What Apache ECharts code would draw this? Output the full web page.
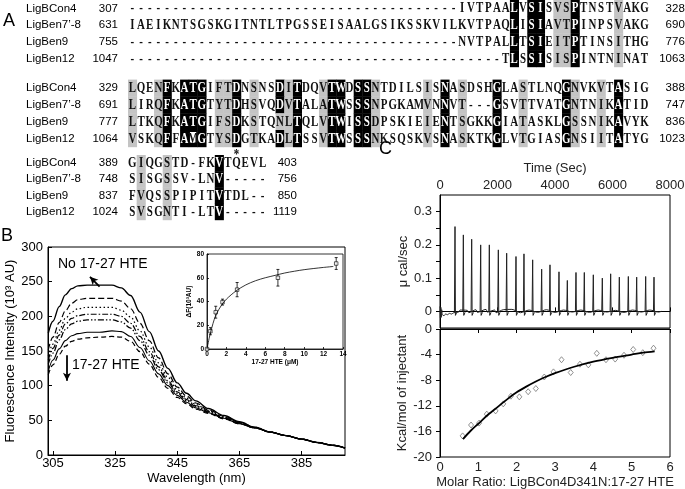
<!DOCTYPE html>
<html><head><meta charset="utf-8">
<script src="https://cdn.jsdelivr.net/npm/echarts@6/dist/echarts.min.js"></script>
<style>html,body{margin:0;padding:0;background:#fff}#c{width:685px;height:489px}</style>
</head><body><div id="c"></div>
<script>
// ================= Panel A : alignment =================
const seqNames = ['LigBCon4', 'LigBen7\u2019-8', 'LigBen9', 'LigBen12'];
const block1Start = [307, 631, 755, 1047];
const block1End = [328, 690, 776, 1063];
const block1Seq = [
  '--------------------------------------IVTPAALVSISVSPTNSTVAKG',
  'IAEIKNTSGSKGITNTLTPGSSEISAALGSIKSSKVILKVTPAQLISIAVTPINPSVAKG',
  '--------------------------------------NVTPALLTSIEITPTINSITHG',
  '-------------------------------------------TLSSISISPINTNINAT'
];
const block1Black = [45, 47, 48, 52];
const block1Gray = [50, 51, 57];

const block2Start = [329, 691, 777, 1064];
const block2End = [388, 747, 836, 1023];
const block2Seq = [
  'LQENFKATGIFTDNSNSDITDQVTWDSSNTDILSISNASDSHGLASTLNQGNVKVTASIG',
  'LIRQFKATGTYTDHSVQDVTALATWSSSNPGKAMVNNVT---GSVTTVATGNTNIKATID',
  'LTKQFKATGIFSDKSTQNLTQLVTWISSDPSKIEIENTSGKKGIATASKLGSSNIKAVYK',
  'VSKQFFAMGTYSDGTKADLTSSVTWSSSNKSQSKVSNASKTKGLVTGIASGNSIITATYG'
];
const block2Black = [5, 7, 8, 9, 13, 18, 20, 24, 25, 27, 28, 37, 43, 51, 57];
const block2Gray = [1, 4, 11, 12, 15, 19, 23, 29, 35, 39, 46, 52, 55];
const block2Except = [[2, 18, 'g'], [3, 8, 'w']];
const block2Star = 13;

const block3Start = [389, 748, 837, 1024];
const block3End = [403, 756, 850, 1119];
const block3Seq = [
  'GIQGSTD-FKVTQEVL',
  'SISGSSV-LNV-----',
  'FVQSSPIPITVTDL--',
  'SVSGNTI-LTV-----'
];
const block3Black = [11];
const block3Gray = [2, 5];

// ================= Panel B : fluorescence =================
const wavelength = [303.5,305,307,309,311,313,316,320,324,327,330,333,336,339,342,345,348,351,355,360,365,370,375,380,385,390,395,399];
const fNoHTE = [176,193,214,231,240,244,245,245,245,241,230,206,178,150,125,104,89,78,67,57,48,40,33,28,23,18,14,10];
const fHTE1  = [152,170,191,208,219,224,226,226,226,222,211,190,165,140,117,98,85,75,65,56,47,40,33,28,23,18,14,10];
const fHTE2  = [143,160,180,197,206,211,213,213,213,209,199,179,156,133,112,94,82,73,64,55,47,40,33,28,23,18,14,10];
const fHTE3  = [137,154,173,189,197,201,203,203,203,200,190,171,149,127,107,91,80,71,63,54,46,39,33,28,23,18,14,10];
const fHTE4  = [131,147,166,181,189,193,195,195,195,192,183,165,144,123,104,89,78,70,62,53,46,39,33,28,23,18,14,10];
const fHTE5  = [121,137,153,165,172,175,177,177,179,178,171,155,136,117,100,86,76,68,61,53,45,39,33,28,23,18,14,10];
const fHTE6  = [116,130,145,157,164,167,169,170,171,170,164,149,131,112,96,83,74,66,60,52,45,39,33,28,23,18,14,10];
const wlTicks = [305, 325, 345, 365, 385];

// inset
const insetConc = [0, 0.35, 0.9, 1.6, 3.1, 7.3, 13.3];
const insetDF = [0, 15, 31, 39.5, 50, 60, 72];
const insetErr = [0, 3, 5, 2.5, 6, 7, 5];
const insetFitConc = [0,0.25,0.5,0.75,1,1.5,2,3,4,5,6,7,8,9,10,11,12,13];
const insetFitDF = [0,10,18,25,30,37,42,49,54,57.5,60,62,64,65.5,66.8,67.8,68.7,69.5];

// ================= Panel C : ITC =================
const itcInjTime = [522,812,1102,1415,1716,2029,2319,2643,2921,3223,3536,3826,4139,4429,4730,5020,5333,5646,5936,6238,6551,6841,7154,7444];
const itcPeak = [0.255,0.23,0.217,0.2,0.2,0.185,0.175,0.165,0.173,0.155,0.127,0.14,0.119,0.093,0.117,0.117,0.11,0.1,0.113,0.103,0.105,0.103,0.105,0.103];
const itcBaseTime = [0,15,30,45,60,80,110,140,170,200,260,330,400,480,650,700,950,1000,1250,1300,1600,1650,1900,1950,2200,2500,2800,3100,3400,3700,4000,4300,4600,4900,5200,5500,5800,6100,6400,6700,7000,7300,7600,7700];
const itcBaseVal = [0.015,-0.02,0.012,-0.018,0.005,-0.01,-0.012,-0.013,-0.01,-0.008,-0.01,-0.006,-0.008,-0.004,-0.002,0.004,0.003,-0.004,0.005,-0.003,0.006,-0.002,0.004,-0.004,0.005,0.006,-0.004,0.004,-0.003,0.005,-0.003,0.004,-0.002,0.004,-0.003,0.004,-0.002,0.003,-0.003,0.004,-0.002,0.004,-0.002,0];
const molarRatio = [0.59,0.81,1.02,1.22,1.45,1.65,1.85,2.07,2.30,2.50,2.72,2.96,3.17,3.41,3.65,3.87,4.09,4.33,4.57,4.80,5.04,5.29,5.57];
const heatKcal = [-16.7,-15.0,-14.7,-13.3,-12.8,-11.7,-10.5,-10.6,-9.8,-9.3,-7.5,-6.7,-4.8,-6.8,-5.5,-5.6,-3.8,-4.8,-4.7,-4.1,-3.2,-3.7,-3.0];
const fitRatio = [0.6,0.8,1.0,1.25,1.5,1.75,2.0,2.25,2.5,2.75,3.0,3.5,4.0,4.5,5.0,5.3,5.6];
const fitKcal = [-17.2,-15.9,-14.8,-13.4,-12.2,-11.0,-9.9,-9.0,-8.2,-7.5,-6.9,-5.9,-5.1,-4.5,-4.0,-3.7,-3.5];

// ---------------------------------------------------------
const FONT = 'Liberation Sans';
const CELL = 8.68;

function buildCells(seqs, black, gray, except) {
  const items = [];
  seqs.forEach((s, r) => {
    for (let c = 1; c <= s.length; c++) {
      const ch = s[c - 1];
      let sh = '';
      if (ch !== '-') {
        if (black.includes(c)) sh = 'b';
        else if (gray.includes(c)) sh = 'g';
      }
      (except || []).forEach(e => { if (e[0] === r && e[1] === c) sh = e[2]; });
      items.push({ value: [c - 0.5, r], ch: ch, sh: sh });
    }
  });
  return items;
}
const cells1 = buildCells(block1Seq, block1Black, block1Gray, []);
const cells2 = buildCells(block2Seq, block2Black, block2Gray, block2Except);
cells2.push({ value: [block2Star - 0.5, 4], ch: '*', sh: '' });
const cells3 = buildCells(block3Seq, block3Black, block3Gray, []);

function alignRenderer(items) {
  return function (params, api) {
    const it = items[params.dataIndex];
    const p = api.coord([api.value(0), api.value(1)]);
    const sz = api.size([1, 1]);
    const w = sz[0], h = sz[1];
    const ch = [];
    const rect = { x: p[0] - w / 2, y: p[1] - h / 2, width: w + 0.4, height: h + 0.4 };
    if (it.sh === 'b' || it.sh === 'w') ch.push({ type: 'rect', shape: rect, style: { fill: '#000' } });
    if (it.sh === 'g') ch.push({ type: 'rect', shape: rect, style: { fill: '#c4c4c4' } });
    if (it.sh === 'w') ch.push({ type: 'rect', shape: { x: p[0] - w / 2 + 1.2, y: p[1] - h / 2 + 2, width: w - 2.4, height: h - 6 }, style: { fill: '#fff' } });
    ch.push({
      type: 'text', x: p[0], y: p[1] + 0.5, scaleX: 0.78,
      style: { text: it.ch, fill: it.sh === 'b' ? '#fff' : '#111', font: 'bold 14px "Liberation Serif"', align: 'center', verticalAlign: 'middle' }
    });
    return { type: 'group', children: ch };
  };
}

function nameAxis(gi, nCat, starts) {
  const cats = []; for (let i = 0; i < nCat; i++) cats.push(String(i));
  return {
    type: 'category', gridIndex: gi, data: cats, inverse: true, position: 'left',
    axisLine: { show: false }, axisTick: { show: false }, splitLine: { show: false },
    axisLabel: {
      interval: 0, margin: 10, hideOverlap: false,
      formatter: (v, i) => i < 4 ? '{n|' + seqNames[i] + '}{s|' + starts[i] + '}' : '',
      rich: {
        n: { width: 62, align: 'left', fontFamily: FONT, fontSize: 11.5, color: '#000' },
        s: { width: 30, align: 'right', fontFamily: FONT, fontSize: 11.5, color: '#000' }
      }
    }
  };
}
function endAxis(gi, nCat, ends, boxW) {
  const cats = []; for (let i = 0; i < nCat; i++) cats.push(String(i));
  return {
    type: 'category', gridIndex: gi, data: cats, inverse: true, position: 'right',
    axisLine: { show: false }, axisTick: { show: false }, splitLine: { show: false },
    axisLabel: {
      interval: 0, margin: 0, hideOverlap: false,
      formatter: (v, i) => i < 4 ? '{e|' + ends[i] + '}' : '',
      rich: { e: { width: boxW, align: 'right', fontFamily: FONT, fontSize: 11.5, color: '#000' } }
    }
  };
}
function hiddenX(gi, max) {
  return { type: 'value', gridIndex: gi, min: 0, max: max, show: false };
}

const lab = (size, extra) => Object.assign({ fontFamily: FONT, fontSize: size, color: '#000' }, extra || {});
const blackLine = { lineStyle: { color: '#000', width: 1 } };

const gridBase = { containLabel: false, outerBoundsMode: 'none' };
const frame = { show: true, borderColor: '#000', borderWidth: 1, backgroundColor: 'transparent' };

const option = {
  animation: false,
  backgroundColor: '#fff',
  grid: [
    Object.assign({ left: 128, top: 0, width: 60 * CELL, height: 66.8 }, gridBase),
    Object.assign({ left: 128, top: 79.6, width: 60 * CELL, height: 84 }, gridBase),
    Object.assign({ left: 128, top: 155, width: 16 * CELL, height: 64.8 }, gridBase),
    Object.assign({ left: 48, top: 247, width: 297, height: 208 }, gridBase, frame),
    Object.assign({ left: 207, top: 254, width: 136, height: 95 }, gridBase, frame, { borderWidth: 0.8 }),
    Object.assign({ left: 440, top: 195, width: 230, height: 133 }, gridBase, frame),
    Object.assign({ left: 440, top: 329, width: 230, height: 128 }, gridBase, frame)
  ],
  xAxis: [
    hiddenX(0, 60), hiddenX(1, 60), hiddenX(2, 16),
    { type: 'value', gridIndex: 3, min: 303.4, max: 399,
      name: 'Wavelength (nm)', nameLocation: 'middle', nameGap: 17, nameTextStyle: lab(13),
      axisLine: blackLine, splitLine: { show: false },
      axisTick: { inside: true, length: 4, customValues: wlTicks, lineStyle: { color: '#000' } },
      axisLabel: lab(13, { margin: 2, customValues: wlTicks }) },
    { type: 'value', gridIndex: 4, min: 0, max: 14, interval: 2,
      name: '17-27 HTE (\u03bcM)', nameLocation: 'middle', nameGap: 9, nameTextStyle: lab(6.5, { fontWeight: 'bold' }),
      axisLine: { lineStyle: { color: '#000', width: 0.8 } }, splitLine: { show: false },
      axisTick: { inside: true, length: 2, lineStyle: { color: '#000', width: 0.8 } },
      axisLabel: lab(6.5, { fontWeight: 'bold', margin: 2 }) },
    { type: 'value', gridIndex: 5, min: 0, max: 8000, interval: 2000, position: 'top',
      name: 'Time (Sec)', nameLocation: 'middle', nameGap: 20, nameTextStyle: lab(13, { color: '#222' }),
      axisLine: blackLine, splitLine: { show: false },
      axisTick: { inside: false, length: 4, lineStyle: { color: '#000' } },
      axisLabel: lab(13, { margin: 3, color: '#222', formatter: v => String(v) }) },
    { type: 'value', gridIndex: 6, min: 0, max: 6, interval: 1,
      name: 'Molar Ratio: LigBCon4D341N:17-27 HTE', nameLocation: 'middle', nameGap: 19, nameTextStyle: lab(13, { color: '#222' }),
      axisLine: blackLine, splitLine: { show: false },
      axisTick: { inside: false, length: 4, lineStyle: { color: '#000' } },
      axisLabel: lab(13, { margin: 4, color: '#222' }) }
  ],
  yAxis: [
    nameAxis(0, 4, block1Start), endAxis(0, 4, block1End, 36),
    nameAxis(1, 5, block2Start), endAxis(1, 5, block2End, 36),
    nameAxis(2, 4, block3Start), endAxis(2, 4, block3End, 30),
    { type: 'value', gridIndex: 3, min: 0, max: 300, interval: 50,
      name: 'Fluorescence Intensity (10\u00b3 AU)', nameLocation: 'middle', nameGap: 30, nameTextStyle: lab(13),
      axisLine: blackLine, splitLine: { show: false },
      axisTick: { inside: true, length: 4, lineStyle: { color: '#000' } },
      axisLabel: lab(13, { margin: 5 }) },
    { type: 'value', gridIndex: 4, min: 0, max: 80, interval: 20,
      name: '\u0394F(10\u00b3AU)', nameLocation: 'middle', nameGap: 13, nameTextStyle: lab(6.5, { fontWeight: 'bold' }),
      axisLine: { lineStyle: { color: '#000', width: 0.8 } }, splitLine: { show: false },
      axisTick: { inside: true, length: 2, lineStyle: { color: '#000', width: 0.8 } },
      axisLabel: lab(6.5, { fontWeight: 'bold', margin: 3 }) },
    { type: 'value', gridIndex: 5, min: -0.05, max: 0.35,
      name: '\u03bc cal/sec', nameLocation: 'middle', nameGap: 30, nameTextStyle: lab(13, { color: '#222' }),
      axisLine: blackLine, splitLine: { show: false },
      axisTick: { length: 4, customValues: [0, 0.05, 0.1, 0.15, 0.2, 0.25, 0.3], lineStyle: { color: '#000' } },
      axisLabel: lab(13, { margin: 8, color: '#222', customValues: [0, 0.1, 0.2, 0.3], formatter: v => v === 0 ? '0' : v.toFixed(1) }) },
    { type: 'value', gridIndex: 6, min: -20, max: 0, interval: 4,
      name: 'Kcal/mol of injectant', nameLocation: 'middle', nameGap: 30, nameTextStyle: lab(13, { color: '#222' }),
      axisLine: blackLine, splitLine: { show: false },
      axisTick: { length: 4, lineStyle: { color: '#000' } },
      axisLabel: lab(13, { margin: 8, color: '#222' }) }
  ],
  graphic: [
    { type: 'text', left: 3, top: 12, style: { text: 'A', font: '18px "Liberation Sans"', fill: '#000' } },
    { type: 'text', left: 1, top: 227, style: { text: 'B', font: '18px "Liberation Sans"', fill: '#000' } },
    { type: 'text', left: 379, top: 140, style: { text: 'C', font: '18px "Liberation Sans"', fill: '#000' } },
    { type: 'text', left: 58, top: 257, style: { text: 'No 17-27 HTE', font: '14px "Liberation Sans"', fill: '#000' } },
    { type: 'text', left: 72, top: 358, style: { text: '17-27 HTE', font: '14px "Liberation Sans"', fill: '#000' } }
  ],
  series: [
    { type: 'custom', xAxisIndex: 0, yAxisIndex: 0, data: cells1.map(d => d.value), renderItem: alignRenderer(cells1), silent: true, clip: false },
    { type: 'custom', xAxisIndex: 1, yAxisIndex: 2, data: cells2.map(d => d.value), renderItem: alignRenderer(cells2), silent: true, clip: false },
    { type: 'custom', xAxisIndex: 2, yAxisIndex: 4, data: cells3.map(d => d.value), renderItem: alignRenderer(cells3), silent: true, clip: false },
  ]
};

// Panel B curves
const curveSet = [
  [fNoHTE, 'solid', 1.4],
  [fHTE1, [6, 3], 1.2],
  [fHTE2, [1.5, 2.5], 1.2],
  [fHTE3, [6, 2, 1.5, 2], 1.2],
  [fHTE4, [6, 2, 1.5, 2, 1.5, 2], 1.2],
  [fHTE5, 'solid', 1.1],
  [fHTE6, [5, 3], 1.2]
];
curveSet.forEach((cs, k) => {
  const s = {
    type: 'line', xAxisIndex: 3, yAxisIndex: 6, showSymbol: false, symbol: 'none',
    smooth: 0.35, smoothMonotone: 'x',
    data: wavelength.map((w, i) => [w, cs[0][i]]),
    lineStyle: { color: '#000', width: cs[2], type: cs[1] }, silent: true
  };
  if (k === 0) {
    s.markLine = {
      silent: true, symbol: ['none', 'arrow'], symbolSize: [6, 8], label: { show: false },
      lineStyle: { color: '#000', width: 1.8, type: 'solid' },
      data: [
        [{ coord: [320, 243] }, { coord: [316.9, 257] }],
        [{ coord: [309.5, 144] }, { coord: [309.5, 107] }]
      ]
    };
  }
  option.series.push(s);
});

// inset
option.series.push({
  type: 'line', xAxisIndex: 4, yAxisIndex: 7, showSymbol: false, smooth: 0.3,
  data: insetFitConc.map((c, i) => [c, insetFitDF[i]]),
  lineStyle: { color: '#000', width: 0.8 }, silent: true
});
option.series.push({
  type: 'custom', xAxisIndex: 4, yAxisIndex: 7, silent: true,
  data: insetConc.map((c, i) => [c, insetDF[i] - insetErr[i], insetDF[i] + insetErr[i]]),
  renderItem: (params, api) => {
    const lo = api.coord([api.value(0), api.value(1)]);
    const hi = api.coord([api.value(0), api.value(2)]);
    return { type: 'group', children: [
      { type: 'line', shape: { x1: lo[0], y1: lo[1], x2: hi[0], y2: hi[1] }, style: { stroke: '#000', lineWidth: 0.8 } },
      { type: 'line', shape: { x1: lo[0] - 1.5, y1: lo[1], x2: lo[0] + 1.5, y2: lo[1] }, style: { stroke: '#000', lineWidth: 0.8 } },
      { type: 'line', shape: { x1: hi[0] - 1.5, y1: hi[1], x2: hi[0] + 1.5, y2: hi[1] }, style: { stroke: '#000', lineWidth: 0.8 } }
    ] };
  }
});
option.series.push({
  type: 'scatter', xAxisIndex: 4, yAxisIndex: 7, symbol: 'rect', symbolSize: 3.5, silent: true,
  data: insetConc.map((c, i) => [c, insetDF[i]]),
  itemStyle: { color: '#fff', borderColor: '#000', borderWidth: 0.8 }
});

// Panel C top: baseline + injection spikes
option.series.push({
  type: 'line', xAxisIndex: 5, yAxisIndex: 8, showSymbol: false, smooth: 0.3, silent: true,
  data: itcBaseTime.map((t, i) => [t, itcBaseVal[i]]),
  lineStyle: { color: '#222', width: 1 }
});
option.series.push({
  type: 'custom', xAxisIndex: 5, yAxisIndex: 8, silent: true,
  data: itcInjTime.map((t, i) => [t, itcPeak[i]]),
  renderItem: (params, api) => {
    const t = api.value(0), h = api.value(1);
    const pts = [[t - 20, 0], [t, h], [t + 15, -0.012], [t + 60, -0.003]].map(p => api.coord(p));
    return { type: 'polyline', shape: { points: pts }, style: { stroke: '#222', lineWidth: 1, fill: null } };
  }
});

// Panel C bottom
option.series.push({
  type: 'line', xAxisIndex: 6, yAxisIndex: 9, showSymbol: false, smooth: 0.3, silent: true,
  data: fitRatio.map((r, i) => [r, fitKcal[i]]),
  lineStyle: { color: '#000', width: 1.8 }
});
option.series.push({
  type: 'scatter', xAxisIndex: 6, yAxisIndex: 9, symbol: 'diamond', symbolSize: [5, 6], silent: true,
  data: molarRatio.map((r, i) => [r, heatKcal[i]]),
  itemStyle: { color: '#fff', borderColor: '#666', borderWidth: 0.9 }
});

const chart = echarts.init(document.getElementById('c'), null, { renderer: 'canvas', width: 685, height: 489 });
chart.setOption(option);
</script>
</body></html>
